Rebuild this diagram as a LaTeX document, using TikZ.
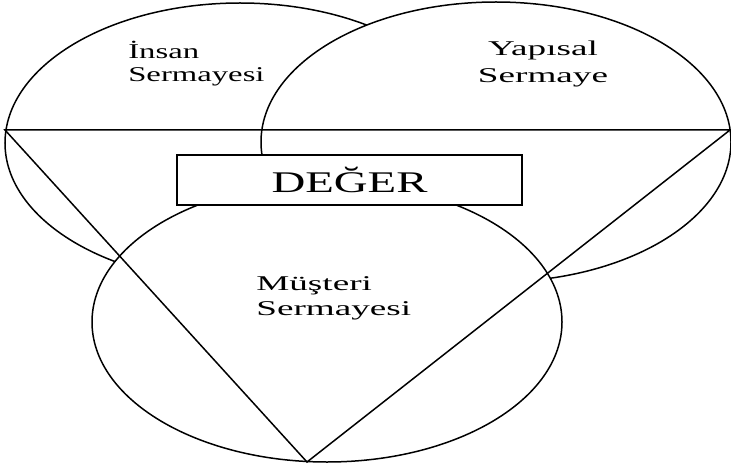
\documentclass[tikz,border=0pt]{standalone}
\usepackage{fontspec}
\setmainfont{Liberation Serif}
\usetikzlibrary{shapes.geometric}
\tikzset{
  daire/.style={ellipse, draw=black, fill=white, minimum width=470pt,
    minimum height=280pt, inner sep=0pt, line width=1.5pt},
  kutu/.style={rectangle, draw=black, fill=white, minimum width=221pt,
    minimum height=50pt, inner sep=0pt, line width=2.2pt, xscale=1.56,
    font=\fontsize{30}{32}\selectfont},
  etiket/.style={inner sep=0pt, xscale=1.77,
    font=\fontsize{21}{25}\selectfont},
  cizgi/.style={line width=1.5pt, line join=miter}
}
\begin{document}
\begin{tikzpicture}[x=1pt, y=-1pt]
  \useasboundingbox (0,0) rectangle (731,468);
  % three capital circles
  \node[daire] (insan) at (240,143) {};
  \node[daire] (yapisal) at (496,142) {};
  \node[daire] (musteri) at (327,322) {};
  \node[kutu] (deger) at (349.5,180) {DEĞER};
  % labels
  \node[etiket, xscale=0.88, align=left, anchor=base west,
    font=\fontsize{21}{23}\selectfont] (l1) at (128,82) {İnsan\\Sermayesi};
  \node[etiket, align=center, anchor=base,
    font=\fontsize{21}{27}\selectfont] (l2) at (543,83) {Yapısal\\Sermaye};
  \node[etiket, align=left, anchor=base west] (l3) at (256,315) {Müşteri\\Sermayesi};
  % triangle
  \coordinate (sol) at (5,130);
  \coordinate (sag) at (730,130);
  \coordinate (tepe) at (307,462);
  \draw[cizgi] (sol) -- (sag) -- (tepe) -- cycle;
\end{tikzpicture}
\end{document}
